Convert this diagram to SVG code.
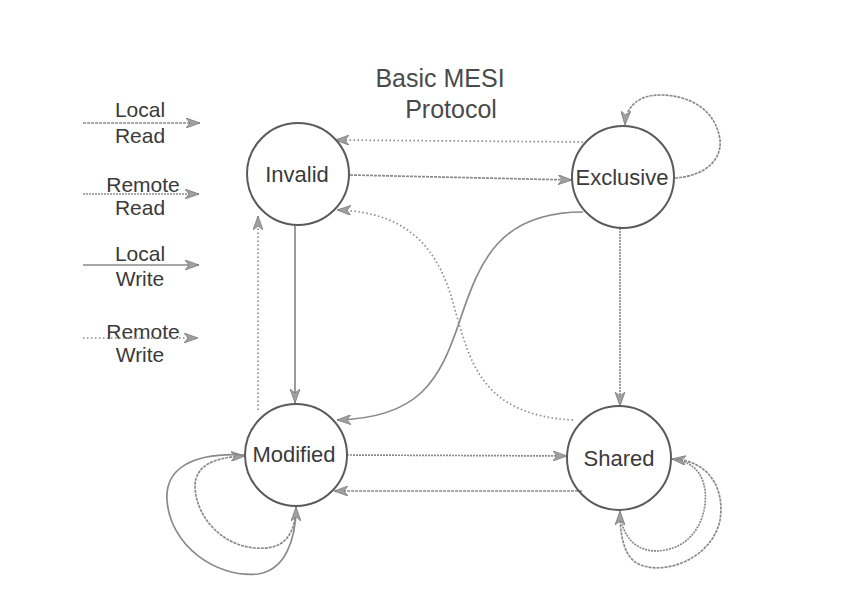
<svg xmlns="http://www.w3.org/2000/svg" width="856" height="595" viewBox="0 0 856 595">
<style>
text{font-family:"Liberation Sans",Arial,sans-serif;fill:#3a3a3a;text-anchor:middle}
.node circle{fill:none;stroke:#5a5a5a;stroke-width:2}
.node text{font-size:22px}
.leg{font-size:21px}
.title{font-size:25px;fill:#4a4a4a}
.c{fill:none;stroke:#8a8a8a;stroke-width:1.7;marker-end:url(#ah)}
.lr{stroke-dasharray:3 1}
.rr{stroke-dasharray:2 1}
.lw{}
.rw{stroke-dasharray:1.5 2.5}
</style>
<defs>
<marker id="ah" viewBox="0 0 14 10" refX="14" refY="5" markerWidth="14" markerHeight="10" markerUnits="userSpaceOnUse" orient="auto">
<path d="M0,0 L14,5 L0,10 L4,5 Z" fill="#a0a0a0" stroke="#7a7a7a" stroke-width="0.8"/>
</marker>
</defs>
<rect width="856" height="595" fill="#ffffff"/>
<g id="title">
<text class="title" x="440" y="87">Basic MESI</text>
<text class="title" x="451" y="118">Protocol</text>
</g>
<g id="legend">
<text class="leg" x="140" y="117">Local</text>
<text class="leg" x="140" y="143">Read</text>
<path class="c lr" d="M83,123 L200,123"/>
<text class="leg" x="143" y="192">Remote</text>
<text class="leg" x="140" y="215">Read</text>
<path class="c rr" d="M83,194 L199,194"/>
<text class="leg" x="140" y="261">Local</text>
<text class="leg" x="140" y="286">Write</text>
<path class="c lw" d="M83,265 L199,265"/>
<text class="leg" x="143" y="339">Remote</text>
<text class="leg" x="140" y="362">Write</text>
<path class="c rw" d="M83,338 L198,338"/>
</g>
<g id="connectors">
<path class="c rw" d="M583,142 L335,140"/>
<path class="c lr" d="M350,175 L572,180"/>
<path class="c lr" d="M675,178 C705,176 722,160 720,140 C716,110 690,95 660,95 C640,95 626,105 625,125"/>
<path class="c rw" d="M573,420 C480,415 470,360 455,310 C440,250 410,212 337,210"/>
<path class="c lw" d="M583,212 C500,212 480,260 460,320 C440,380 420,418 337,420"/>
<path class="c lw" d="M295,226 L295,403"/>
<path class="c rw" d="M258,410 L258,216"/>
<path class="c rr" d="M620,228 L620,406"/>
<path class="c rr" d="M347,455 L567,456"/>
<path class="c lr" d="M582,491 L334,491"/>
<path class="c lr" d="M296,510 C294,540 280,550 255,548 C220,545 195,515 195,485 C196,465 215,457 245,456"/>
<path class="c lw" d="M245,455 C190,452 165,470 167,500 C170,545 215,578 258,574 C285,570 296,540 296,507"/>
<path class="c rr" d="M620,512 C622,540 640,555 665,550 C695,545 708,515 705,490 C702,470 690,461 672,459"/>
<path class="c lr" d="M672,459 C710,460 725,490 720,520 C712,560 660,578 635,562 C622,552 620,530 620,511"/>
</g>
<g id="invalid" class="node">
<circle cx="298" cy="174" r="51"/>
<text x="297" y="182">Invalid</text>
</g>
<g id="exclusive" class="node">
<circle cx="623" cy="177" r="51"/>
<text x="622" y="185">Exclusive</text>
</g>
<g id="modified" class="node">
<circle cx="296" cy="455" r="51"/>
<text x="294" y="462">Modified</text>
</g>
<g id="shared" class="node">
<circle cx="619" cy="458" r="52"/>
<text x="619" y="466">Shared</text>
</g>
</svg>
